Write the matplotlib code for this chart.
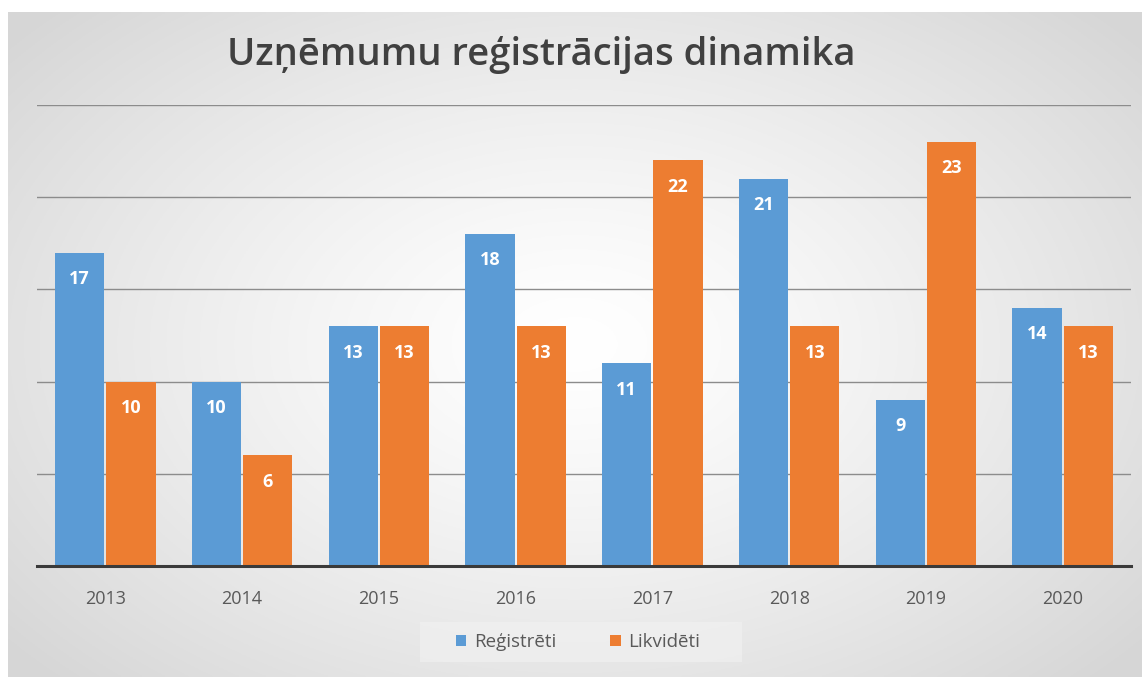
import numpy as np
import matplotlib.pyplot as plt
from matplotlib.patches import Rectangle

years = ["2013", "2014", "2015", "2016", "2017", "2018", "2019", "2020"]
registreti = [17, 10, 13, 18, 11, 21, 9, 14]
likvideti = [10, 6, 13, 13, 22, 13, 23, 13]
series_names = ["Reģistrēti", "Likvidēti"]
title = "Uzņēmumu reģistrācijas dinamika"

W, H = 1142, 677
fig = plt.figure(figsize=(W / 100, H / 100), dpi=100)
fig.patch.set_facecolor("white")

# background panel with radial gradient
bx0, by0 = 8 / W, 0
bw, bh = 1 - bx0, (H - 12) / H
bg = fig.add_axes([bx0, by0, bw, bh], zorder=0)
yy, xx = np.mgrid[-1:1:300j, -1:1:500j]
r = np.sqrt(xx ** 2 + (yy * 0.9) ** 2)
val = 1.0 - 0.16 * np.clip(r / 1.3, 0, 1) ** 1.3
bg.imshow(np.dstack([val, val, val]), extent=[0, 1, 0, 1], aspect="auto", origin="lower")
bg.set_xlim(0, 1)
bg.set_ylim(0, 1)
bg.set_axis_off()

# legend background box
lx0, lx1, ly0, ly1 = 420, 742, 622, 662
bg.add_patch(Rectangle(((lx0 / W - bx0) / bw, (1 - ly1 / H) / bh), (lx1 - lx0) / W / bw,
                       (ly1 - ly0) / H / bh, transform=bg.transAxes,
                       facecolor="#f2f2f2", edgecolor="none", alpha=0.6, zorder=2))

# plot area
px0, px1 = 37 / W, 1131 / W
py_bottom, py_top = 566, 105
ax = fig.add_axes([px0, 1 - py_bottom / H, px1 - px0, (py_bottom - py_top) / H], zorder=1)
ax.patch.set_alpha(0)

x = np.arange(len(years))
bw_ = 0.36
gap = 0.015
c_blue = "#5B9BD5"
c_orange = "#ED7D31"
b1 = ax.bar(x - bw_ / 2 - gap / 2, registreti, bw_, color=c_blue, zorder=3, label=series_names[0])
b2 = ax.bar(x + bw_ / 2 + gap / 2, likvideti, bw_, color=c_orange, zorder=3, label=series_names[1])

for bars, vals in ((b1, registreti), (b2, likvideti)):
    for rect, v in zip(bars, vals):
        ax.annotate(str(v), (rect.get_x() + rect.get_width() / 2, v), xytext=(0, -19),
                    textcoords="offset points", ha="center", va="center", color="white",
                    fontsize=13, fontweight="bold", family="Open Sans", zorder=4)

ax.set_xlim(-0.5, len(years) - 0.5)
ax.set_ylim(0, 25)
ax.set_yticks([5, 10, 15, 20, 25])
ax.yaxis.grid(True, color="#8c8c8c", linewidth=1.0, zorder=0)
ax.tick_params(axis="y", left=False, labelleft=False)
ax.set_xticks(x)
ax.set_xticklabels(years, fontsize=13, color="#595959", family="Open Sans")
ax.tick_params(axis="x", length=0, pad=17)
for s in ("top", "right", "left"):
    ax.spines[s].set_visible(False)
ax.spines["bottom"].set_color("#3a3a3a")
ax.spines["bottom"].set_linewidth(2.2)
ax.spines["bottom"].set_zorder(5)

fig.text(541 / W, 1 - 55 / H, title, ha="center", va="center", fontsize=27.5,
         color="#404040", family="Open Sans", fontweight="semibold")

leg = ax.legend(loc="center", bbox_to_anchor=(578 / W, 1 - 642 / H), bbox_transform=fig.transFigure,
                ncol=2, frameon=False, handlelength=0.55, handleheight=0.55,
                handletextpad=0.4, columnspacing=2.9,
                prop={"family": "Open Sans", "size": 13.5})
for t in leg.get_texts():
    t.set_color("#595959")

fig.savefig("out.png", dpi=100)
